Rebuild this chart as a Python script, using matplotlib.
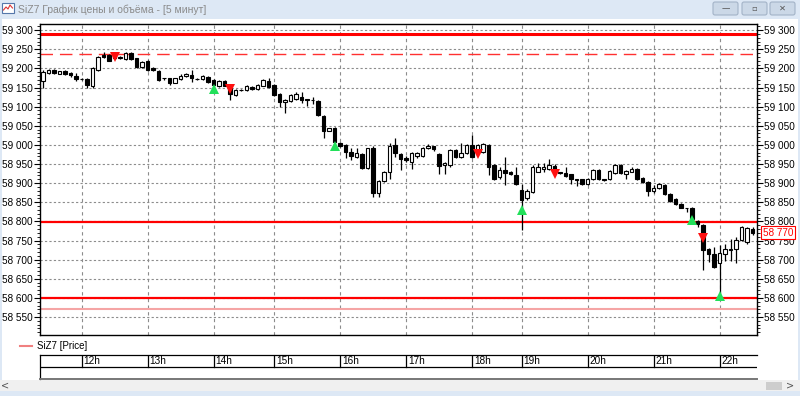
import matplotlib
matplotlib.use('Agg')
import matplotlib.pyplot as plt
from matplotlib.patches import Rectangle, FancyBboxPatch
from matplotlib.ticker import MultipleLocator, FuncFormatter
import matplotlib.transforms as mtransforms
import numpy as np

# ---------------- data ----------------
opens = [59168, 59187, 59197, 59186, 59194, 59187, 59180, 59173, 59172, 59154,
         59196, 59235, 59235, 59232, 59227, 59225, 59241, 59226, 59204, 59220,
         59201, 59194, 59175, 59174, 59163, 59172, 59180, 59183, 59173, 59171,
         59178, 59169, 59154, 59168, 59148, 59131, 59143, 59143, 59152, 59145,
         59155, 59168, 59156, 59134, 59112, 59115, 59121, 59124, 59119, 59117,
         59115, 59075, 59037, 59045, 59005, 58999, 58982, 58969, 58976, 58940,
         58991, 58875, 58906, 58930, 59000, 58977, 58966, 58956, 58971, 58971,
         58991, 58996, 58977, 58947, 58947, 58986, 58969, 58978, 58999, 58982,
         58982, 59000, 58947, 58915, 58934, 58930, 58921, 58882, 58860, 58877,
         58930, 58936, 58938, 58945, 58928, 58927, 58923, 58909, 58910, 58897,
         58911, 58934, 58910, 58910, 58927, 58947, 58925, 58930, 58938, 58914,
         58904, 58880, 58886, 58895, 58871, 58858, 58845, 58835, 58835, 58802,
         58790, 58728, 58716, 58690, 58716, 58725, 58727, 58751, 58747, 58779]
highs = [59195, 59198, 59199, 59194, 59196, 59190, 59187, 59175, 59174, 59204,
         59232, 59243, 59238, 59235, 59232, 59243, 59243, 59228, 59219, 59222,
         59203, 59196, 59176, 59176, 59176, 59184, 59188, 59195, 59175, 59182,
         59180, 59171, 59170, 59170, 59150, 59145, 59145, 59157, 59154, 59158,
         59171, 59174, 59158, 59136, 59119, 59132, 59138, 59139, 59120, 59124,
         59118, 59077, 59045, 59047, 59007, 59001, 58991, 58991, 58978, 58993,
         58997, 58908, 58931, 59004, 59017, 58980, 58970, 58982, 58982, 58995,
         59002, 58998, 58980, 58956, 58990, 58990, 59004, 59002, 59025, 59002,
         59004, 59002, 58950, 58943, 58969, 58933, 58943, 58899, 58884, 58947,
         58953, 58953, 58964, 58950, 58930, 58941, 58925, 58912, 58912, 58914,
         58937, 58938, 58912, 58934, 58950, 58951, 58934, 58941, 58940, 58916,
         58906, 58895, 58901, 58897, 58873, 58860, 58847, 58835, 58837, 58804,
         58792, 58730, 58734, 58738, 58742, 58755, 58760, 58788, 58786, 58786]
lows = [59150, 59185, 59186, 59184, 59182, 59178, 59168, 59170, 59148, 59150,
        59194, 59228, 59218, 59224, 59225, 59222, 59222, 59202, 59202, 59193,
        59194, 59167, 59170, 59156, 59161, 59170, 59178, 59165, 59170, 59169,
        59163, 59153, 59152, 59153, 59117, 59129, 59141, 59141, 59143, 59143,
        59153, 59150, 59128, 59100, 59084, 59113, 59117, 59110, 59101, 59108,
        59075, 59019, 59035, 59006, 58995, 58965, 58960, 58965, 58938, 58938,
        58863, 58864, 58903, 58912, 58969, 58934, 58955, 58938, 58966, 58968,
        58988, 58985, 58925, 58925, 58943, 58966, 58966, 58975, 58966, 58980,
        58980, 58921, 58908, 58912, 58895, 58920, 58896, 58777, 58855, 58874,
        58928, 58930, 58935, 58925, 58924, 58916, 58899, 58892, 58894, 58895,
        58909, 58908, 58906, 58908, 58925, 58925, 58910, 58928, 58909, 58901,
        58866, 58873, 58884, 58869, 58851, 58843, 58834, 58825, 58803, 58786,
        58674, 58694, 58678, 58605, 58697, 58697, 58690, 58749, 58742, 58764]
closes = [59191, 59195, 59187, 59192, 59184, 59182, 59173, 59172, 59156, 59202,
          59230, 59230, 59220, 59226, 59230, 59241, 59224, 59204, 59217, 59196,
          59196, 59169, 59174, 59163, 59174, 59181, 59185, 59174, 59172, 59180,
          59165, 59156, 59168, 59155, 59132, 59143, 59143, 59155, 59145, 59156,
          59169, 59152, 59130, 59113, 59117, 59130, 59134, 59117, 59118, 59117,
          59078, 59037, 59043, 59008, 58997, 58982, 58972, 58978, 58940, 58991,
          58873, 58906, 58929, 58997, 58978, 58964, 58960, 58978, 58978, 58991,
          58998, 58988, 58944, 58953, 58986, 58969, 58980, 58999, 58969, 58999,
          59002, 58943, 58912, 58934, 58927, 58925, 58899, 58856, 58880, 58943,
          58943, 58941, 58947, 58930, 58927, 58919, 58910, 58908, 58897, 58912,
          58934, 58910, 58909, 58932, 58947, 58927, 58932, 58938, 58911, 58904,
          58880, 58886, 58897, 58871, 58854, 58845, 58836, 58834, 58805, 58793,
          58725, 58714, 58680, 58718, 58729, 58729, 58751, 58786, 58784, 58770]

hour_labels = ['12h', '13h', '14h', '15h', '16h', '17h', '18h', '19h', '20h', '21h', '22h']
hour_index = [7, 19, 31, 42, 54, 66, 78, 87, 99, 111, 123]

sell_idx = [13, 34, 79, 93, 120]
sell_price = [59229, 59146, 58976, 58925, 58757]
buy_idx = [31, 53, 87, 118, 123]
buy_price = [59146, 58997, 58831, 58803, 58606]

level_top = [59289]
level_solid = [58798, 58600]
level_dashed = [59237]
level_pale = [58571]

y_ticks = list(range(58550, 59301, 50))
title_text = 'SiZ7 График цены и объёма - [5 минут]'
legend_text = 'SiZ7 [Price]'

FONT = ['Liberation Sans', 'DejaVu Sans']

# ---------------- figure ----------------
W, H = 800, 396
fig = plt.figure(figsize=(W / 100, H / 100), dpi=100)
fig.patch.set_facecolor('white')

bg = fig.add_axes([0, 0, 1, 1])
bg.set_xlim(0, W)
bg.set_ylim(H, 0)
bg.axis('off')

# title bar and frame
bg.add_patch(Rectangle((0, 0), W, 19, facecolor='#dde8f5', edgecolor='none'))
bg.add_patch(Rectangle((0, 0), 2, H, facecolor='#dde8f5', edgecolor='none'))
bg.add_patch(Rectangle((W - 2, 0), 2, H, facecolor='#dde8f5', edgecolor='none'))
# icon
bg.add_patch(Rectangle((2, 3), 12, 10, facecolor='white', edgecolor='#5577aa', lw=0.8))
bg.plot([3.5, 6, 8, 10, 12.5], [10, 7, 9, 5, 8], color='#dd3333', lw=0.8)
bg.text(18, 9.5, title_text, fontsize=7.5, color='#8a8a8a', va='center', ha='left',
        family=FONT)
# window buttons
for bx, sym in [(713, '—'), (742, '▫'), (770, '✕')]:
    bg.add_patch(FancyBboxPatch((bx, 2), 25, 13, boxstyle='round,pad=0,rounding_size=2',
                                facecolor='#cbd8e7', edgecolor='#a3b3c7', lw=0.8))
    bg.text(bx + 12.5, 8.5, sym, fontsize=6, color='#555555', ha='center', va='center')

# bottom scroll bar / border
bg.add_patch(Rectangle((0, 380), W, 11, facecolor='#f0f0f0', edgecolor='none'))
bg.add_patch(Rectangle((766, 382), 16, 8, facecolor='#cdcdcd', edgecolor='none'))
bg.text(5, 385, '<', fontsize=7, color='#555555', ha='center', va='center')
bg.text(790, 385, '>', fontsize=7, color='#555555', ha='center', va='center')
bg.add_patch(Rectangle((0, 391), W, 5, facecolor='#dde8f5', edgecolor='none'))

# legend
bg.plot([20, 32], [346, 346], color='#f08080', lw=1.5)
bg.text(37, 346, legend_text, fontsize=7, color='black', va='center', ha='left',
        family=FONT)

# ---------------- main chart ----------------
ax = fig.add_axes([40 / W, 1 - 335 / H, 717 / W, 311 / H])
n = len(closes)
x = np.arange(n)
o = np.array(opens, dtype=float)
c = np.array(closes, dtype=float)
hi = np.array(highs, dtype=float)
lo = np.array(lows, dtype=float)

ax.set_xlim(-0.55, 129.8)
ax.set_ylim(58503, 59316)

# grid
ax.set_yticks(y_ticks)
ax.yaxis.set_minor_locator(MultipleLocator(10))
ax.grid(axis='y', which='major', color='#8c8c8c', linestyle=(0, (2, 2)), lw=0.8, zorder=0)
for hx in hour_index:
    ax.axvline(hx, color='#8c8c8c', linestyle=(0, (3, 3)), lw=0.8, zorder=0)
ax.set_xticks([])

# levels
for lv in level_top:
    ax.axhline(lv, color='#ff0000', lw=2.2, zorder=2)
for lv in level_solid:
    ax.axhline(lv, color='#ff0000', lw=1.6, zorder=2)
for lv in level_dashed:
    ax.axhline(lv, color='#ff3030', lw=1.0, linestyle=(0, (9, 5)), zorder=2)
for lv in level_pale:
    ax.axhline(lv, color='#f5a5a5', lw=1.5, zorder=2)

# candles
ax.vlines(x, lo, hi, color='black', lw=0.9, zorder=3)
bottoms = np.minimum(o, c)
heights = np.maximum(np.abs(c - o), 1.5)
face = ['white' if cc >= oo else 'black' for oo, cc in zip(o, c)]
ax.bar(x, heights, bottom=bottoms, width=0.68, color=face, edgecolor='black',
       linewidth=0.8, zorder=4)

# signals
ax.plot(sell_idx, sell_price, linestyle='none', marker='v', markersize=6.5,
        color='#ff1010', markeredgewidth=0, zorder=5)
ax.plot(buy_idx, buy_price, linestyle='none', marker='^', markersize=6.5,
        color='#22e05a', markeredgewidth=0, zorder=5)

# axes styling
for s in ax.spines.values():
    s.set_color('black')
    s.set_linewidth(1.0)
fmt = FuncFormatter(lambda v, p: f"{int(v) // 1000} {int(v) % 1000:03d}")
ax.yaxis.set_major_formatter(fmt)
ax.tick_params(axis='y', which='both', left=True, right=True, labelleft=True,
               labelright=True, direction='out', labelsize=7.2, pad=1)
ax.tick_params(axis='y', which='major', length=4, width=0.8)
ax.tick_params(axis='y', which='minor', length=2.5, width=0.6)
for lab in ax.get_yticklabels():
    lab.set_family(FONT)

# last price box
trans = mtransforms.blended_transform_factory(ax.transAxes, ax.transData)
last_val = closes[-1]
ax.text(1.008, last_val, f"{last_val // 1000} {last_val % 1000:03d}", transform=trans,
        fontsize=7.2, color='#ff0000', ha='left', va='center', zorder=10,
        family=FONT, clip_on=False,
        bbox=dict(boxstyle='square,pad=0.15', facecolor='white', edgecolor='#ff0000', lw=0.8))

# ---------------- time table ----------------
tb = fig.add_axes([40 / W, 1 - 379 / H, 717 / W, 24 / H], sharex=ax)
tb.set_ylim(0, 2)
tb.set_yticks([])
tb.tick_params(axis='x', bottom=False, labelbottom=False)
tb.axhline(1.0, color='black', lw=0.9)
for hx, lab in zip(hour_index, hour_labels):
    tb.plot([hx, hx], [1, 2], color='black', lw=0.9)
    tb.text(hx + 0.35, 1.5, lab, fontsize=7.2, ha='left', va='center', family=FONT)
for s in tb.spines.values():
    s.set_color('black')
    s.set_linewidth(0.9)
tb.spines['right'].set_visible(False)
tb.spines['bottom'].set_color('#777777')
tb.spines['bottom'].set_linewidth(1.4)

fig.savefig('out.png', dpi=100)
